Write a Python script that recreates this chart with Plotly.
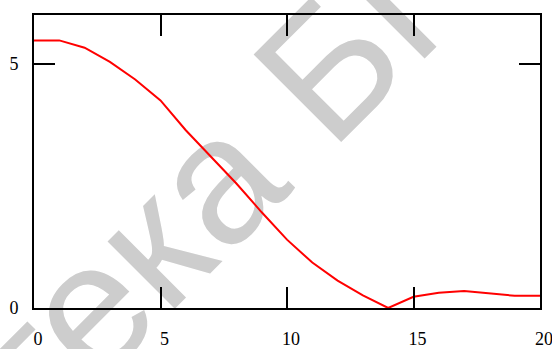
import plotly.graph_objects as go

# sampled curve
x_vals = list(range(0, 21))
y_vals = [5.48, 5.48, 5.33, 5.04, 4.68, 4.25, 3.64, 3.10, 2.55, 1.96, 1.40,
          0.93, 0.56, 0.26, 0.0, 0.23, 0.31, 0.35, 0.30, 0.25, 0.25]

x_ticks = [0, 5, 10, 15, 20]
y_ticks = [0, 5]
watermark = "Библиотека БГУИР"

fig = go.Figure()
fig.add_trace(go.Scatter(
    x=x_vals, y=y_vals, mode="lines",
    line=dict(color="#ff0000", width=2),
    showlegend=False, hoverinfo="skip",
))

# background watermark, drawn beneath the traces and axes
fig.add_shape(
    type="rect", xref="paper", yref="paper",
    x0=0.1615, x1=0.1616, y0=0.180, y1=0.1801,
    line=dict(width=0), fillcolor="rgba(0,0,0,0)",
    layer="below",
    label=dict(text=watermark, textangle=-45, textposition="middle center",
               font=dict(family="Liberation Sans", size=180, color="#cdcdcd")),
)

tick_font = dict(family="Liberation Serif", size=18, color="black")
axis_common = dict(
    showline=True, linewidth=2, linecolor="black", mirror="ticks",
    ticks="inside", ticklen=21, tickwidth=2, tickcolor="black",
    showgrid=False, zeroline=False, tickfont=tick_font, automargin=False,
    ticklabeloverflow="allow",
)

fig.update_xaxes(range=[0, 20], tickvals=x_ticks,
                 ticktext=[str(v) for v in x_ticks],
                 ticklabelstandoff=13, ticklabelshift=4, **axis_common)
fig.update_yaxes(range=[0, 6], tickvals=y_ticks,
                 ticktext=[str(v) for v in y_ticks],
                 ticklabelstandoff=10, **axis_common)

fig.update_layout(
    width=552, height=349, autosize=False,
    margin=dict(l=34, r=12, t=15, b=41),
    paper_bgcolor="white", plot_bgcolor="rgba(0,0,0,0)",
)

fig.write_html("out.html")
